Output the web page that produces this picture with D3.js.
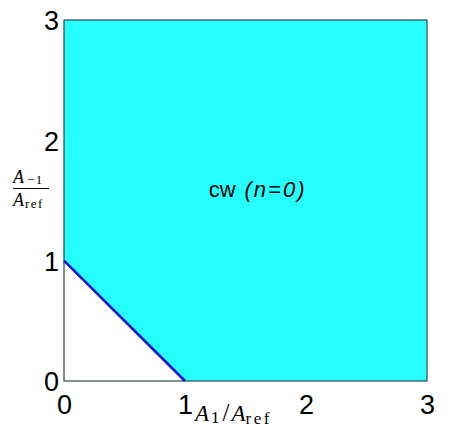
<!DOCTYPE html>
<html>
<head>
<meta charset="utf-8">
<script src="https://cdn.jsdelivr.net/npm/d3@7"></script>
<style>
  body { margin: 0; background: #fff; }
</style>
</head>
<body>
<div class="chart"></div>
<script>
// region boundary (A1/Aref, A-1/Aref)
const boundaryX = [0, 1];
const boundaryY = [1, 0];
const regionX = [0, 1, 3, 3, 0];
const regionY = [1, 0, 0, 3, 3];
const xTicks = [0, 1, 2, 3];
const yTicks = [0, 1, 2, 3];
const regionLabel = {x: 1.6, y: 1.53, plain: 'cw', italic: '(n=0)'};

const outerWidth = 469, outerHeight = 432;
const margin = {top: 20, right: 42, bottom: 51, left: 64};
const width = outerWidth - margin.left - margin.right;
const height = outerHeight - margin.top - margin.bottom;

const svg = d3.select('.chart').append('svg')
    .attr('width', outerWidth)
    .attr('height', outerHeight)
    .append('g')
    .attr('transform', 'translate(' + margin.left + ',' + margin.top + ')');

const x = d3.scaleLinear().domain([0, 3]).range([0, width]);
const y = d3.scaleLinear().domain([0, 3]).range([height, 0]);
const line = d3.line().x(d => x(d[0])).y(d => y(d[1]));

// filled region
svg.append('path')
    .datum(d3.zip(regionX, regionY))
    .attr('fill', '#26ffff')
    .attr('d', d => line(d) + 'Z');

// box
svg.append('rect')
    .attr('x', 0).attr('y', 0)
    .attr('width', width).attr('height', height)
    .attr('fill', 'none')
    .attr('stroke', '#2f4a4a')
    .attr('stroke-width', 1.2);

// boundary line
svg.append('path')
    .datum(d3.zip(boundaryX, boundaryY))
    .attr('fill', 'none')
    .attr('stroke', '#1010e0')
    .attr('stroke-width', 2.6)
    .attr('d', line);

// axes (labels only, no tick marks)
const xAxis = svg.append('g')
    .attr('transform', 'translate(0,' + height + ')')
    .call(d3.axisBottom(x).tickValues(xTicks).tickFormat(d3.format('d')).tickSize(0).tickPadding(14));
const yAxis = svg.append('g')
    .call(d3.axisLeft(y).tickValues(yTicks).tickFormat(d3.format('d')).tickSize(0).tickPadding(5));
[xAxis, yAxis].forEach(a => {
    a.select('.domain').remove();
    a.selectAll('text')
        .attr('font-family', '"Liberation Sans", Arial, sans-serif')
        .attr('font-size', 27)
        .attr('fill', '#000');
});
xAxis.selectAll('text').attr('dy', '0.71em');
yAxis.selectAll('text').attr('dy', '0.36em');

// x label A_1 / A_ref
const serif = '"Liberation Serif", "DejaVu Serif", serif';
const xl = svg.append('text')
    .attr('x', x(1) + 10)
    .attr('y', height + 40)
    .attr('font-family', serif)
    .attr('font-size', 23);
xl.append('tspan').attr('font-style', 'italic').text('A');
xl.append('tspan').attr('font-size', 17).attr('dx', 2).attr('dy', 2).text('1');
xl.append('tspan').attr('dx', 3).attr('dy', -2).attr('font-size', 25).text('/');
xl.append('tspan').attr('dx', 2).attr('font-style', 'italic').text('A');
xl.append('tspan').attr('font-size', 17).attr('letter-spacing', 2.5).attr('dy', 3).text('ref');

// y label fraction A_-1 / A_ref
const yl = svg.append('g')
    .attr('transform', 'translate(' + (-51) + ',' + y(1.6) + ')')
    .attr('font-family', serif);
const num = yl.append('text').attr('x', 0).attr('y', -5).attr('font-size', 18);
num.append('tspan').attr('font-style', 'italic').text('A');
num.append('tspan').attr('font-size', 13).attr('dx', 3).attr('dy', 1).attr('letter-spacing', 1.5).text('\u22121');
yl.append('line')
    .attr('x1', 0).attr('x2', 36)
    .attr('y1', 0).attr('y2', 0)
    .attr('stroke', '#000').attr('stroke-width', 1);
const den = yl.append('text').attr('x', 0).attr('y', 18).attr('font-size', 18);
den.append('tspan').attr('font-style', 'italic').text('A');
den.append('tspan').attr('font-size', 13).attr('dx', 1).attr('dy', 2).attr('letter-spacing', 1.5).text('ref');

// region label
const rl = svg.append('text')
    .attr('x', x(regionLabel.x))
    .attr('y', y(regionLabel.y))
    .attr('text-anchor', 'middle')
    .attr('font-family', '"Liberation Sans", Arial, sans-serif')
    .attr('font-size', 22)
    .attr('fill', '#000');
rl.append('tspan').text(regionLabel.plain);
rl.append('tspan').attr('dx', 9).attr('font-style', 'italic').attr('letter-spacing', 2).text(regionLabel.italic);
</script>
</body>
</html>
